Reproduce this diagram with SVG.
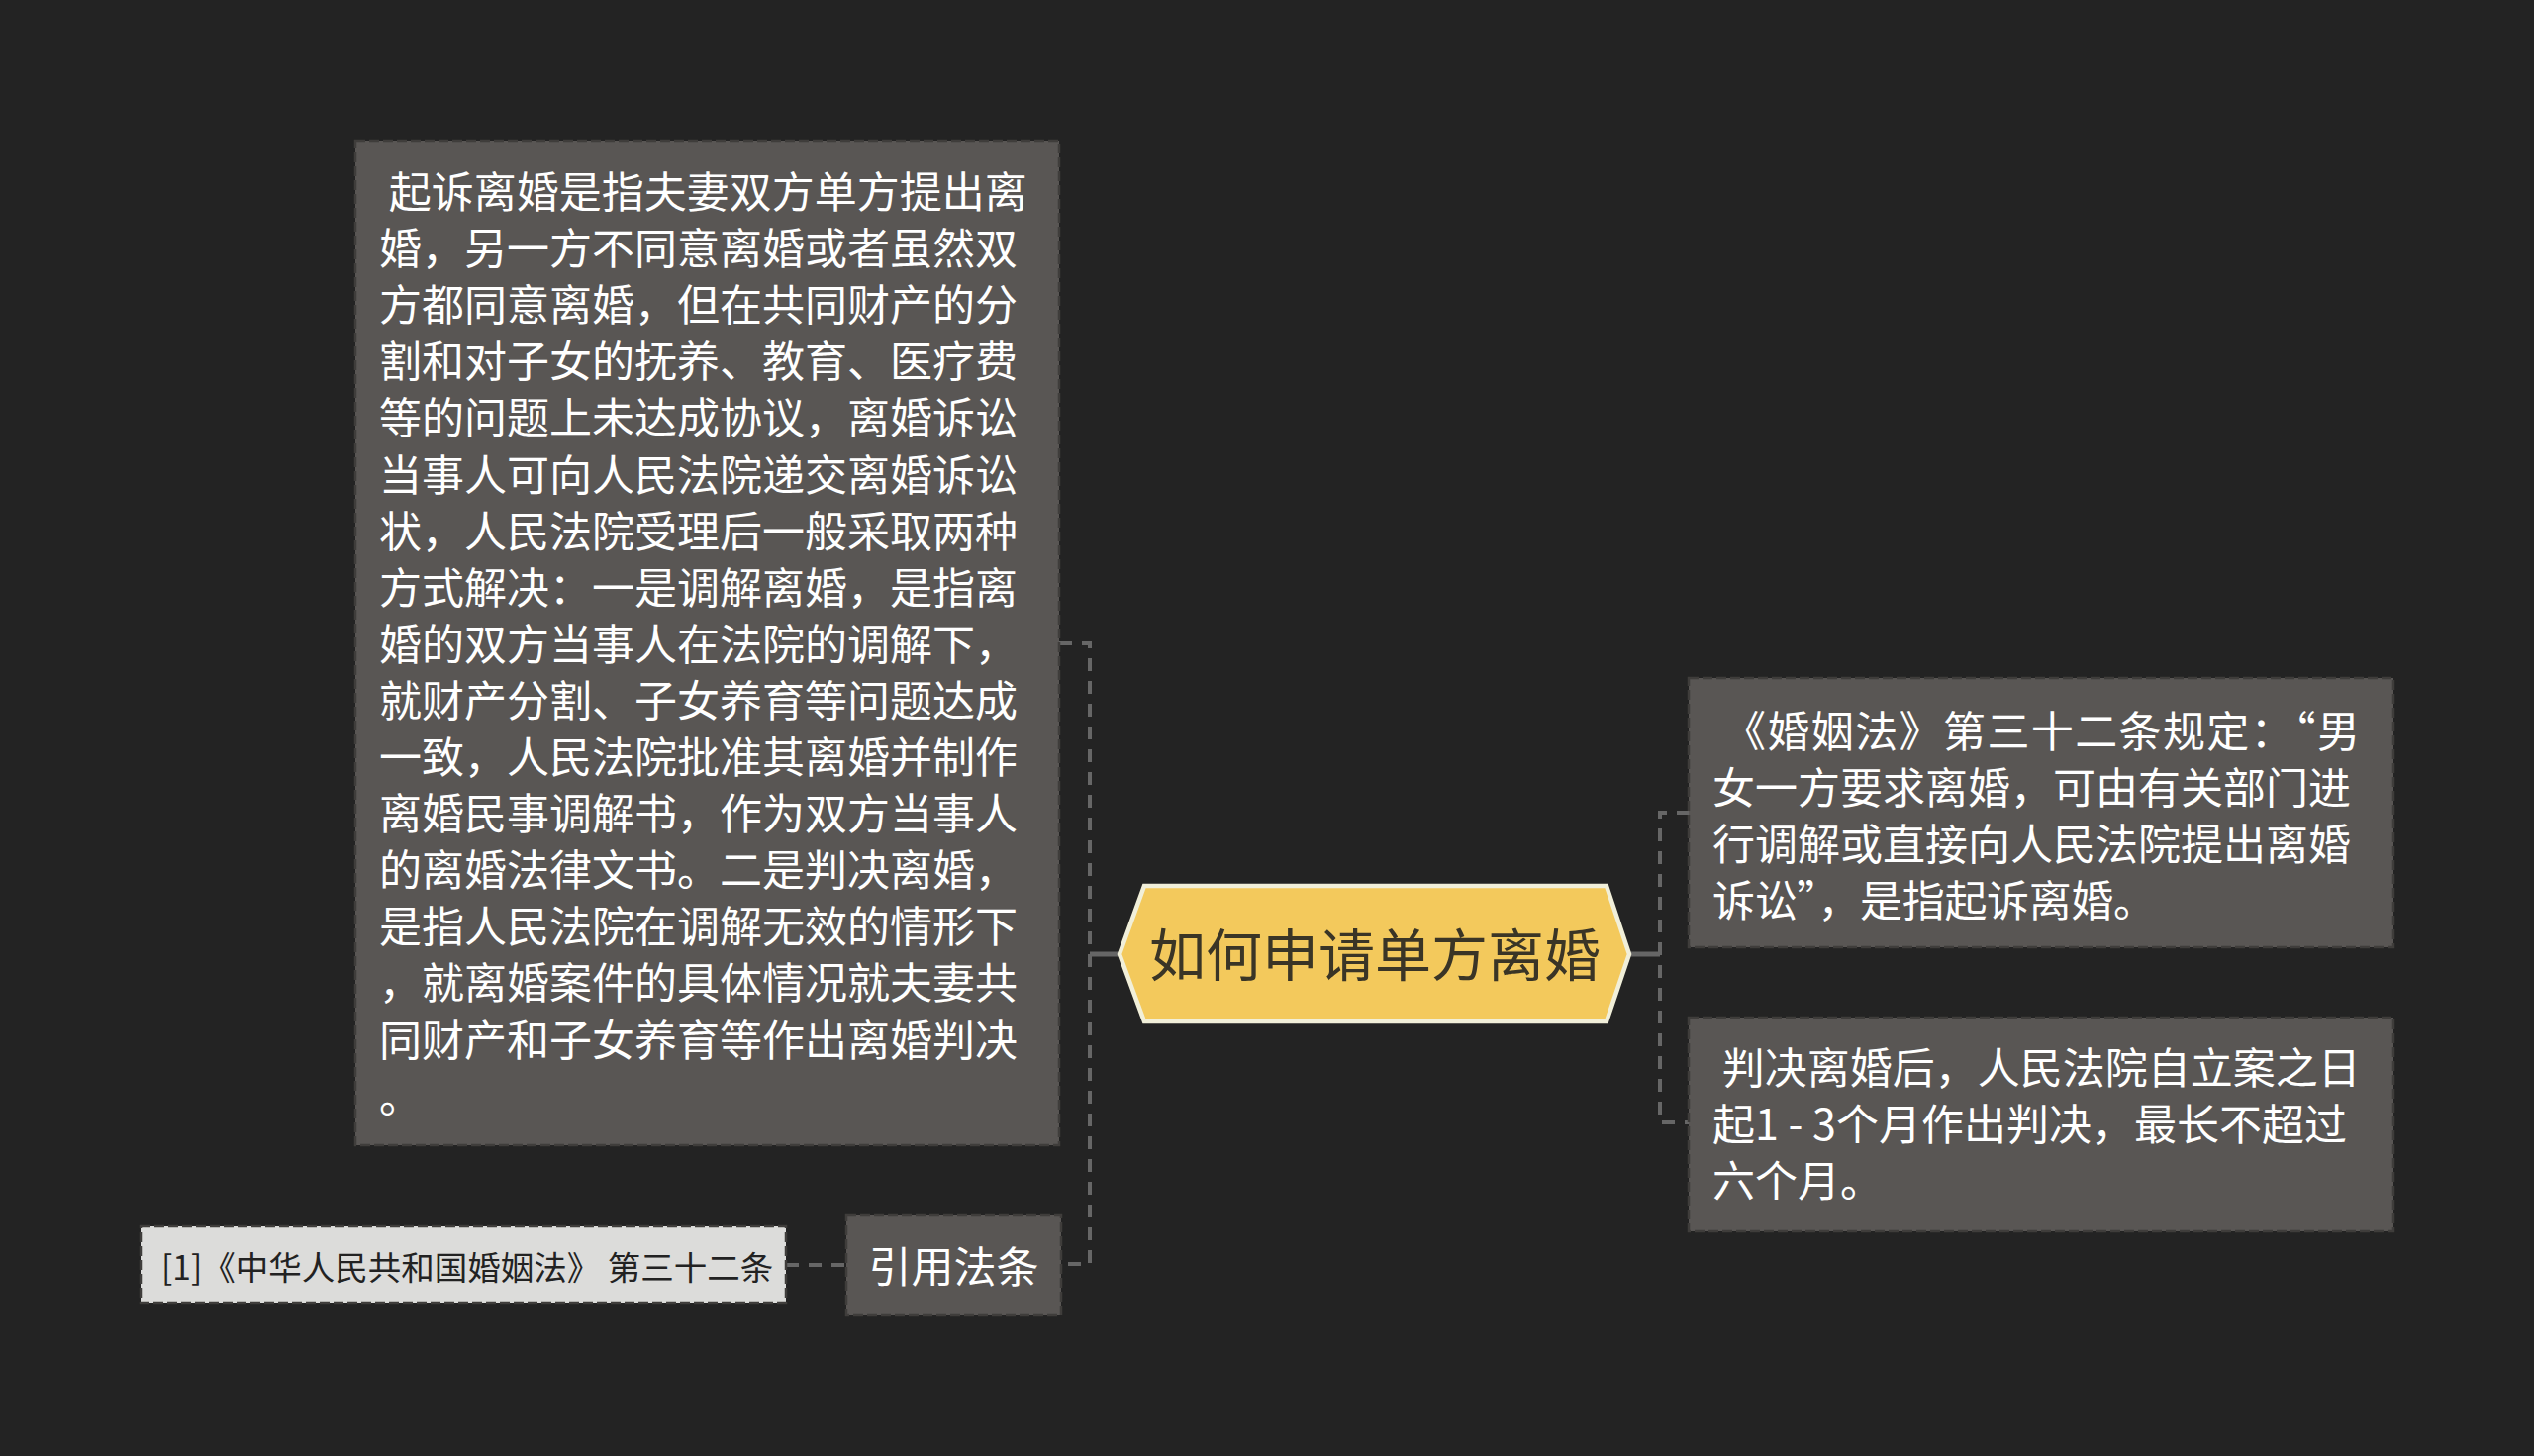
<svg xmlns="http://www.w3.org/2000/svg" width="2560" height="1471" viewBox="0 0 2560 1471">
<style>
.box{fill:#595654;stroke:#3f3d3b;stroke-width:2.5;stroke-dasharray:10 4}
.cite{fill:#dcdcda;stroke:#3f3d3b;stroke-width:2.5;stroke-dasharray:10 4}
.t{font-family:"Noto Sans CJK SC","Noto Sans",sans-serif;fill:#ffffff;font-size:43px}
.dash{fill:none;stroke:#666666;stroke-width:4;stroke-dasharray:13 10}
.solid{fill:none;stroke:#666666;stroke-width:5}
</style>
<rect width="2560" height="1471" fill="#232323"/>
<g id="connectors">
<path class="dash" d="M1070,650 H1101 V1277 H1072"/>
<path class="solid" d="M1101,964 H1131"/>
<path class="dash" d="M794,1278 H855"/>
<path class="dash" d="M1707,821 H1677 V1134 H1707"/>
<path class="solid" d="M1646,964 H1677"/>
</g>
<g id="center">
<polygon points="1131,964 1156,895 1623,895 1646,964 1623,1032 1156,1032" fill="#f3c95c" stroke="#f1efd9" stroke-width="4.5"/>
<text x="1389" y="986" text-anchor="middle" font-family="'Noto Sans CJK SC','Noto Sans',sans-serif" font-size="57" fill="#3a3526">如何申请单方离婚</text>
</g>
<g id="node-left">
<rect class="box" x="359" y="142" width="711" height="1015"/>
<text class="t" xml:space="preserve"><tspan x="383" y="210"> 起诉离婚是指夫妻双方单方提出离</tspan><tspan x="383" y="267.1">婚，另一方不同意离婚或者虽然双</tspan><tspan x="383" y="324.2">方都同意离婚，但在共同财产的分</tspan><tspan x="383" y="381.3">割和对子女的抚养、教育、医疗费</tspan><tspan x="383" y="438.4">等的问题上未达成协议，离婚诉讼</tspan><tspan x="383" y="495.5">当事人可向人民法院递交离婚诉讼</tspan><tspan x="383" y="552.6">状，人民法院受理后一般采取两种</tspan><tspan x="383" y="609.7">方式解决：一是调解离婚，是指离</tspan><tspan x="383" y="666.8">婚的双方当事人在法院的调解下，</tspan><tspan x="383" y="723.9">就财产分割、子女养育等问题达成</tspan><tspan x="383" y="781">一致，人民法院批准其离婚并制作</tspan><tspan x="383" y="838.1">离婚民事调解书，作为双方当事人</tspan><tspan x="383" y="895.2">的离婚法律文书。二是判决离婚，</tspan><tspan x="383" y="952.3">是指人民法院在调解无效的情形下</tspan><tspan x="383" y="1009.4">，就离婚案件的具体情况就夫妻共</tspan><tspan x="383" y="1066.5">同财产和子女养育等作出离婚判决</tspan><tspan x="383" y="1123.6">。</tspan></text>
</g>
<g id="node-law">
<rect class="box" x="855" y="1228" width="217" height="101"/>
<text class="t" x="963.5" y="1296" text-anchor="middle">引用法条</text>
</g>
<g id="node-cite">
<rect class="cite" x="142" y="1239" width="652" height="77"/>
<text x="163" y="1293" font-family="'Noto Sans CJK SC','Noto Sans',sans-serif" font-size="33.5" fill="#222222" xml:space="preserve">[1]《中华人民共和国婚姻法》 第三十二条</text>
</g>
<g id="node-right-top">
<rect class="box" x="1706" y="685" width="712" height="272"/>
<text class="t" xml:space="preserve"><tspan x="1730" y="755" textLength="654" lengthAdjust="spacing"> 《婚姻法》第三十二条规定：“男</tspan><tspan x="1730" y="812.1">女一方要求离婚，可由有关部门进</tspan><tspan x="1730" y="869.2">行调解或直接向人民法院提出离婚</tspan><tspan x="1730" y="926.3" textLength="448" lengthAdjust="spacing">诉讼”，是指起诉离婚。</tspan></text>
</g>
<g id="node-right-bottom">
<rect class="box" x="1706" y="1028" width="712" height="216"/>
<text class="t" xml:space="preserve"><tspan x="1730" y="1095"> 判决离婚后，人民法院自立案之日</tspan><tspan x="1730" y="1152.1">起1 - 3个月作出判决，最长不超过</tspan><tspan x="1730" y="1209.2">六个月。</tspan></text>
</g>
</svg>
